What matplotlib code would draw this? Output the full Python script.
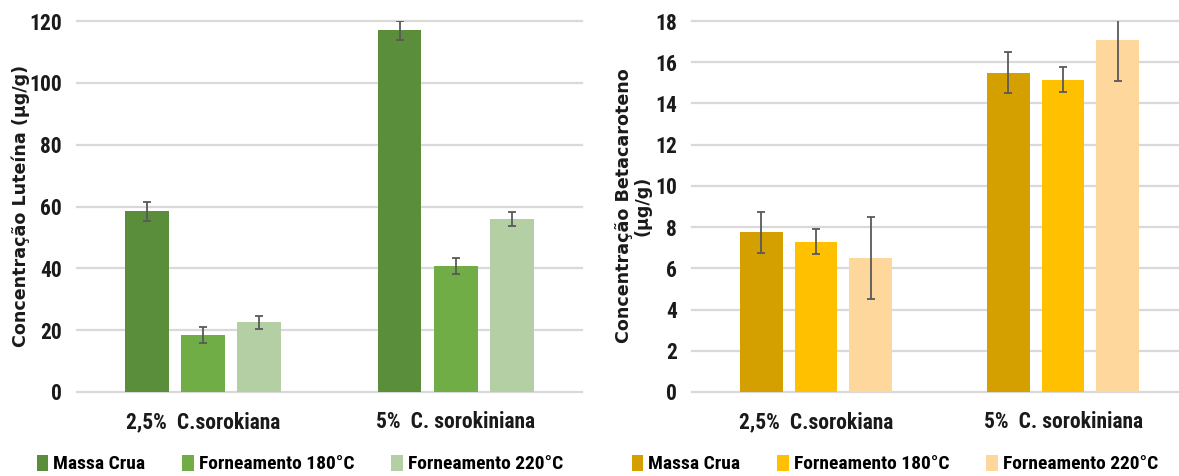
import matplotlib
matplotlib.use("Agg")
import matplotlib.pyplot as plt
from matplotlib.patches import Patch
import numpy as np

# ---- data -------------------------------------------------------------
categories = ["2,5%  C.sorokiana", "5%  C. sorokiniana"]
series = ["Massa Crua", "Forneamento 180°C", "Forneamento 220°C"]

luteina_massa = [58.4, 117.0]
luteina_180 = [18.4, 40.7]
luteina_220 = [22.5, 56.0]
luteina_err_massa = [3.0, 3.0]
luteina_err_180 = [2.6, 2.6]
luteina_err_220 = [2.2, 2.2]

beta_massa = [7.75, 15.5]
beta_180 = [7.3, 15.15]
beta_220 = [6.5, 17.1]
beta_err_massa = [1.0, 1.0]
beta_err_180 = [0.6, 0.6]
beta_err_220 = [2.0, 2.0]

lut_ticks = [0, 20, 40, 60, 80, 100, 120]
beta_ticks = [0, 2, 4, 6, 8, 10, 12, 14, 16, 18]

greens = ["#5B8E3A", "#70AD47", "#B4CFA3"]
golds = ["#D4A000", "#FFC000", "#FDD79B"]

NARROW = ["Liberation Sans Narrow", "Roboto Condensed", "DejaVu Sans"]
LABEL_FONT = "DejaVu Sans"

W, H = 1179, 476
fig = plt.figure(figsize=(W / 100, H / 100), dpi=100)
fig.patch.set_facecolor("white")


def panel(rect, values, errors, colors, ticks, ymax):
    ax = fig.add_axes(rect)
    x = np.arange(len(categories))
    width = 0.174
    step = 0.222
    for i, (vals, errs, c) in enumerate(zip(values, errors, colors)):
        pos = x + (i - 1) * step
        ax.bar(pos, vals, width=width, color=c, zorder=2)
        ax.errorbar(pos, vals, yerr=errs, fmt="none", ecolor="#595959",
                    elinewidth=1.3, capsize=3, capthick=1.3, zorder=3)
    ax.set_xlim(-0.5, len(categories) - 0.5)
    ax.set_ylim(0, ymax)
    ax.set_yticks(ticks)
    ax.set_yticklabels([str(t) for t in ticks])
    ax.set_xticks(x)
    ax.set_xticklabels(categories)
    for s in ax.spines.values():
        s.set_visible(False)
    ax.yaxis.grid(True, color="#D9D9D9", linewidth=1.6, zorder=0)
    for gl in ax.get_ygridlines():
        gl.set_clip_on(False)
    ax.set_axisbelow(True)
    ax.tick_params(axis="both", length=0)
    ax.tick_params(axis="y", pad=11)
    ax.tick_params(axis="x", pad=14)
    for lab in ax.get_yticklabels() + ax.get_xticklabels():
        lab.set_fontfamily(NARROW)
        lab.set_fontweight("bold")
        lab.set_fontsize(15.5)
        lab.set_color("#1a1a1a")
    return ax


ax1 = panel([77 / W, 1 - 392 / H, (581.75 - 77) / W, (392 - 21) / H],
            [luteina_massa, luteina_180, luteina_220],
            [luteina_err_massa, luteina_err_180, luteina_err_220],
            greens, lut_ticks, 120)
ax2 = panel([692.5 / W, 1 - 392 / H, (1186.5 - 692.5) / W, (392 - 21) / H],
            [beta_massa, beta_180, beta_220],
            [beta_err_massa, beta_err_180, beta_err_220],
            golds, beta_ticks, 18)

fig.text(21 / W, 1 - 206 / H, "Concentração Luteína (µg/g)", rotation=90,
         ha="center", va="center", fontsize=12.6, fontweight="bold",
         family=LABEL_FONT, color="#1a1a1a")
fig.text(633 / W, 1 - 206 / H, "Concentração Betacaroteno\n(µg/g)", rotation=90,
         ha="center", va="center", fontsize=12.6, fontweight="bold",
         family=LABEL_FONT, color="#1a1a1a", linespacing=1.05,
         multialignment="center")


def legend(colors, cx):
    handles = [Patch(facecolor=c, edgecolor="none") for c in colors]
    fig.legend(handles, series, loc="center", bbox_to_anchor=(cx / W, 1 - 464 / H),
               ncol=3, frameon=False, handlelength=0.6, handleheight=0.9,
               handletextpad=0.25, columnspacing=1.9,
               prop={"family": NARROW, "weight": "bold", "size": 14})


legend(greens, 300)
legend(golds, 895)

fig.savefig("out.png", dpi=100, facecolor="white")
